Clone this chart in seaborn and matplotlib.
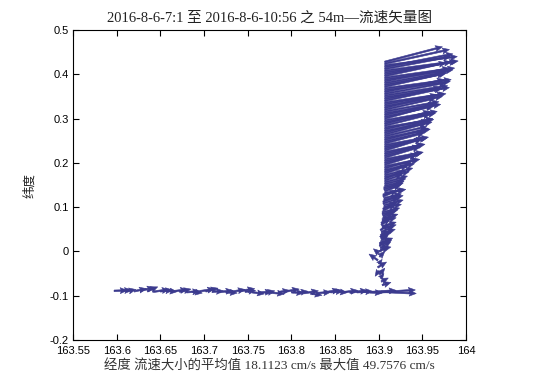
import numpy as np
import matplotlib
matplotlib.use("Agg")
import matplotlib.pyplot as plt
import seaborn as sns

# ---- data: horizontal leg of the track (lat ~ -0.09) ----
h_lon = [163.597, 163.605, 163.612, 163.620, 163.627, 163.635, 163.642, 163.650, 163.657, 163.665,
         163.672, 163.680, 163.687, 163.695, 163.702, 163.710, 163.717, 163.725, 163.732, 163.740,
         163.747, 163.755, 163.762, 163.770, 163.777, 163.785, 163.792, 163.800, 163.807, 163.815,
         163.822, 163.830, 163.837, 163.845, 163.852, 163.860, 163.867, 163.875, 163.882, 163.890,
         163.897, 163.903]
h_lat = [-0.089, -0.089, -0.090, -0.090, -0.089, -0.090, -0.091, -0.090, -0.089, -0.090,
         -0.091, -0.092, -0.091, -0.090, -0.090, -0.091, -0.092, -0.092, -0.091, -0.090,
         -0.091, -0.092, -0.093, -0.094, -0.093, -0.092, -0.091, -0.092, -0.093, -0.094,
         -0.095, -0.094, -0.093, -0.092, -0.091, -0.092, -0.093, -0.092, -0.091, -0.092,
         -0.093, -0.091]
h_u = [0.015, 0.012, 0.010, 0.014, 0.016, 0.012, 0.018, 0.014, 0.012, 0.016,
       0.013, 0.015, 0.011, 0.017, 0.014, 0.012, 0.016, 0.013, 0.015, 0.018,
       0.012, 0.014, 0.016, 0.011, 0.015, 0.013, 0.017, 0.014, 0.012, 0.016,
       0.013, 0.015, 0.018, 0.014, 0.012, 0.016, 0.020, 0.018, 0.022, 0.030,
       0.045, 0.040]
h_v = [0.001, 0.002, 0.004, 0.006, 0.008, 0.010, 0.005, 0.003, -0.002, 0.004,
       0.006, 0.002, -0.003, 0.005, 0.007, 0.002, 0.004, -0.002, 0.005, 0.006,
       0.003, -0.004, 0.002, 0.005, -0.003, 0.004, 0.006, -0.002, 0.003, 0.005,
       -0.004, 0.002, 0.006, 0.003, -0.002, 0.004, 0.005, 0.002, -0.003, 0.004,
       0.006, -0.004]

# ---- data: vertical leg of the track (lon ~ 163.90) ----
v_lat = [-0.076, -0.068, -0.060, -0.052, -0.044, -0.036, -0.028, -0.020, -0.012, -0.004,
         0.004, 0.012, 0.020, 0.028, 0.036, 0.044, 0.052, 0.060, 0.068, 0.076,
         0.084, 0.092, 0.100, 0.108, 0.116, 0.124, 0.132, 0.140, 0.148, 0.156,
         0.164, 0.172, 0.180, 0.188, 0.196, 0.204, 0.212, 0.220, 0.228, 0.236,
         0.244, 0.252, 0.260, 0.268, 0.276, 0.284, 0.292, 0.300, 0.308, 0.316,
         0.324, 0.332, 0.340, 0.348, 0.356, 0.364, 0.372, 0.380, 0.388, 0.396,
         0.404, 0.412, 0.420, 0.428]
v_lon = [163.904, 163.903, 163.902, 163.901, 163.900, 163.899, 163.900, 163.899, 163.901, 163.900,
         163.902, 163.901, 163.902, 163.903, 163.902, 163.903, 163.904, 163.903, 163.904, 163.905,
         163.904, 163.905, 163.906, 163.905, 163.906, 163.905, 163.907, 163.906, 163.907, 163.907,
         163.907, 163.907, 163.907, 163.907, 163.907, 163.907, 163.907, 163.907, 163.907, 163.907,
         163.907, 163.907, 163.907, 163.907, 163.907, 163.907, 163.907, 163.907, 163.907, 163.907,
         163.907, 163.907, 163.907, 163.907, 163.907, 163.907, 163.907, 163.907, 163.907, 163.907,
         163.907, 163.907, 163.907, 163.907]
v_u = [0.010, 0.008, 0.004, 0.006, -0.004, 0.010, 0.004, -0.010, 0.006, -0.006,
       0.012, 0.008, 0.014, 0.006, 0.012, 0.014, 0.016, 0.010, 0.016, 0.012,
       0.018, 0.014, 0.020, 0.018, 0.022, 0.016, 0.024, 0.020, 0.022, 0.026,
       0.022, 0.032, 0.030, 0.038, 0.036, 0.042, 0.040, 0.044, 0.042, 0.048,
       0.045, 0.050, 0.048, 0.050, 0.055, 0.052, 0.058, 0.055, 0.058, 0.062,
       0.060, 0.068, 0.065, 0.074, 0.070, 0.075, 0.068, 0.072, 0.078, 0.070,
       0.082, 0.075, 0.083, 0.066]
v_v = [0.006, 0.008, 0.010, 0.014, -0.012, 0.012, 0.010, 0.014, 0.012, 0.010,
       0.006, 0.012, 0.010, 0.012, 0.010, 0.012, 0.008, 0.014, 0.008, 0.012,
       0.010, 0.014, 0.006, 0.012, 0.010, 0.014, 0.008, 0.012, 0.010, 0.014,
       0.018, 0.016, 0.020, 0.020, 0.022, 0.018, 0.024, 0.022, 0.026, 0.020,
       0.024, 0.026, 0.022, 0.028, 0.024, 0.026, 0.020, 0.030, 0.026, 0.022,
       0.030, 0.024, 0.028, 0.022, 0.025, 0.020, 0.030, 0.026, 0.022, 0.030,
       0.025, 0.028, 0.020, 0.034]

# ---- data: interleaved readings on the vertical leg ----
w_lat = [0.000, 0.008, 0.016, 0.024, 0.032, 0.040, 0.048, 0.056, 0.064, 0.072,
         0.080, 0.088, 0.096, 0.104, 0.112, 0.120, 0.128, 0.136, 0.144, 0.152,
         0.160, 0.168, 0.176, 0.184, 0.192, 0.200, 0.208, 0.216, 0.224, 0.232,
         0.240, 0.248, 0.256, 0.264, 0.272, 0.280, 0.288, 0.296, 0.304, 0.312,
         0.320, 0.328, 0.336, 0.344, 0.352, 0.360, 0.368, 0.376, 0.384, 0.392,
         0.400, 0.408, 0.416, 0.424]
w_lon = [163.901, 163.902, 163.901, 163.903, 163.902, 163.903, 163.902, 163.904, 163.903, 163.904,
         163.905, 163.904, 163.905, 163.906, 163.905, 163.906, 163.905, 163.907, 163.906, 163.907,
         163.907, 163.907, 163.907, 163.907, 163.907, 163.907, 163.907, 163.907, 163.907, 163.907,
         163.907, 163.907, 163.907, 163.907, 163.907, 163.907, 163.907, 163.907, 163.907, 163.907,
         163.907, 163.907, 163.907, 163.907, 163.907, 163.907, 163.907, 163.907, 163.907, 163.907,
         163.907, 163.907, 163.907, 163.907]
w_u = [0.010, 0.012, 0.014, 0.008, 0.012, 0.016, 0.010, 0.016, 0.012, 0.018,
       0.014, 0.020, 0.016, 0.022, 0.018, 0.020, 0.024, 0.018, 0.022, 0.024,
       0.020, 0.028, 0.026, 0.034, 0.040, 0.038, 0.044, 0.040, 0.046, 0.044,
       0.050, 0.046, 0.052, 0.048, 0.054, 0.056, 0.052, 0.060, 0.056, 0.064,
       0.058, 0.066, 0.070, 0.064, 0.072, 0.068, 0.076, 0.070, 0.074, 0.080,
       0.076, 0.084, 0.078, 0.074]
w_v = [0.012, 0.014, 0.010, 0.016, 0.012, 0.010, 0.014, 0.010, 0.016, 0.012,
       0.014, 0.010, 0.016, 0.012, 0.014, 0.010, 0.012, 0.014, 0.010, 0.012,
       0.014, 0.012, 0.018, 0.014, 0.016, 0.020, 0.016, 0.022, 0.018, 0.024,
       0.018, 0.022, 0.020, 0.026, 0.020, 0.018, 0.028, 0.020, 0.024, 0.020,
       0.026, 0.022, 0.020, 0.026, 0.022, 0.028, 0.020, 0.026, 0.030, 0.022,
       0.028, 0.022, 0.030, 0.032]

x_ticks = [163.55, 163.6, 163.65, 163.7, 163.75, 163.8, 163.85, 163.9, 163.95, 164.0]
x_labels = ["163.55", "163.6", "163.65", "163.7", "163.75", "163.8", "163.85", "163.9", "163.95", "164"]
y_ticks = [-0.2, -0.1, 0.0, 0.1, 0.2, 0.3, 0.4, 0.5]
y_labels = ["-0.2", "-0.1", "0", "0.1", "0.2", "0.3", "0.4", "0.5"]

title_text = "2016-8-6-7:1 至 2016-8-6-10:56 之 54m—流速矢量图"
xlabel_text = "经度 流速大小的平均值 18.1123 cm/s 最大值 49.7576 cm/s"
ylabel_text = "纬度"

sns.set_theme(style="ticks")
plt.rcParams["font.family"] = ["Liberation Sans", "Noto Sans CJK SC", "DejaVu Sans"]
plt.rcParams["xtick.direction"] = "in"
plt.rcParams["ytick.direction"] = "in"

fig = plt.figure(figsize=(5.35, 3.79), dpi=100)
ax = fig.add_axes([73 / 535, 1 - 340 / 379, 393 / 535, 310 / 379])

arrow_color = "#3b3a8e"
lon_all = h_lon + v_lon + w_lon
lat_all = h_lat + v_lat + w_lat
u_all = h_u + v_u + w_u
v_all = h_v + v_v + w_v

ax.quiver(lon_all, lat_all, u_all, v_all, angles="xy", scale_units="xy", scale=1,
          color=arrow_color, width=0.0042, headwidth=3.6, headlength=4.2,
          headaxislength=3.6, linewidth=0.4, edgecolor=arrow_color)

ax.set_xlim(163.55, 164.0)
ax.set_ylim(-0.2, 0.5)
ax.set_xticks(x_ticks)
ax.set_xticklabels(x_labels)
ax.set_yticks(y_ticks)
ax.set_yticklabels(y_labels)
ax.tick_params(axis="both", which="both", direction="in", length=4, width=0.8,
               top=True, right=True, labelsize=8, colors="black")
ax.tick_params(axis="x", pad=4)
ax.tick_params(axis="y", pad=3)
for s in ax.spines.values():
    s.set_visible(True)
    s.set_color("black")
    s.set_linewidth(0.8)

ax.set_title(title_text, fontsize=10.5, family=["Liberation Serif", "Noto Sans CJK SC"],
             color="#222222", pad=6)
ax.set_xlabel(xlabel_text, fontsize=9.6, family=["Liberation Serif", "Noto Sans CJK SC"],
              color="#333333", labelpad=3)
ax.set_ylabel(ylabel_text, fontsize=9, family=["Noto Sans CJK SC"], color="#222222", labelpad=10)

fig.savefig("out.png", dpi=100)
